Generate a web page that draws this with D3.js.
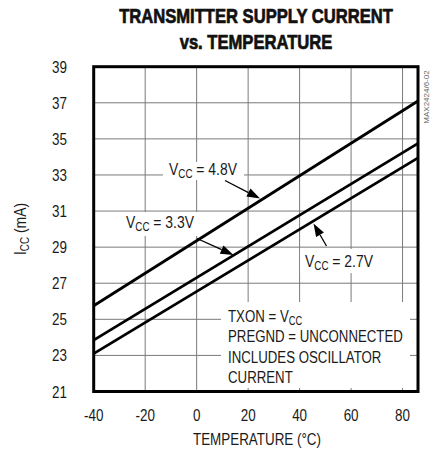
<!DOCTYPE html>
<html><head><meta charset="utf-8">
<script src="https://cdn.jsdelivr.net/npm/d3@7"></script>
<style>
html,body{margin:0;padding:0;background:#fff;}
svg{display:block;}
text{font-family:"Liberation Sans",Arial,sans-serif;}
</style></head>
<body>
<script>
// ---- data ----
const temps = [-40, 86];
const vcc48 = [25.75, 37.1];
const vcc33 = [23.85, 34.75];
const vcc27 = [23.1, 33.95];
const seriesNames = ["4.8V", "3.3V", "2.7V"];
const xTicks = [-40, -20, 0, 20, 40, 60, 80];
const yTicks = [21, 23, 25, 27, 29, 31, 33, 35, 37, 39];
const titleLines = ["TRANSMITTER SUPPLY CURRENT", "vs. TEMPERATURE"];
const noteLines = ["TXON = V|CC", "PREGND = UNCONNECTED", "INCLUDES OSCILLATOR", "CURRENT"];

const W = 431, H = 453;
const SX = 0.79; // narrow font look
const svg = d3.select("body").append("svg").attr("width", W).attr("height", H);

const x = d3.scaleLinear().domain([-40, 86]).range([93.7, 418]);
const y = d3.scaleLinear().domain([21, 39]).range([391.5, 66.7]);

function ntext(parent, tx, ty, anchor, size, sx) {
  return parent.append("g").attr("transform", `translate(${tx},${ty}) scale(${sx},1)`)
    .append("text").attr("text-anchor", anchor).attr("font-size", size).attr("fill", "#1a1a1a");
}

// title
titleLines.forEach((s, i) => {
  ntext(svg, 256, 22.5 + i * 26.5, "middle", 20, 0.83)
    .attr("font-weight", "bold").attr("fill", "#111")
    .attr("stroke", "#111").attr("stroke-width", 0.7).text(s);
});

// gridlines
const grid = svg.append("g").attr("stroke", "#7a7a7a").attr("stroke-width", 1);
grid.selectAll("line.v").data(xTicks.slice(1)).join("line").attr("class", "v")
  .attr("x1", d => x(d)).attr("x2", d => x(d)).attr("y1", y(39)).attr("y2", y(21));
grid.selectAll("line.h").data(yTicks.slice(1, -1)).join("line").attr("class", "h")
  .attr("y1", d => y(d)).attr("y2", d => y(d)).attr("x1", x(-40)).attr("x2", 418);

// white backgrounds for annotations (break the grid)
const bgs = [
  {x0: 163, y0: 162, x1: 244, y1: 180},
  {x0: 118, y0: 212, x1: 200, y1: 236},
  {x0: 300, y0: 249, x1: 384, y1: 273},
  {x0: 221, y0: 302, x1: 410, y1: 388}
];
svg.append("g").selectAll("rect").data(bgs).join("rect")
  .attr("x", d => d.x0).attr("y", d => d.y0)
  .attr("width", d => d.x1 - d.x0).attr("height", d => d.y1 - d.y0)
  .attr("fill", "#fff");

// data lines
const series = [vcc48, vcc33, vcc27];
const line = d3.line().x(d => x(d[0])).y(d => y(d[1]));
svg.append("g").selectAll("path").data(series).join("path")
  .attr("d", s => line(temps.map((t, i) => [t, s[i]])))
  .attr("fill", "none").attr("stroke", "#000").attr("stroke-width", 2.8);

// frame
svg.append("rect").attr("x", x(-40)).attr("y", y(39))
  .attr("width", 418 - x(-40)).attr("height", y(21) - y(39))
  .attr("fill", "none").attr("stroke", "#000").attr("stroke-width", 3);

// axis tick labels
yTicks.forEach(d => ntext(svg, 67, y(d) + 6, "end", 17, SX).text(d));
xTicks.forEach(d => ntext(svg, x(d), 421, "middle", 17, SX).text(d));

// axis titles
ntext(svg, 257, 445, "middle", 17, SX).text("TEMPERATURE (°C)");
const ytg = svg.append("g").attr("transform", "translate(26,229) rotate(-90) scale(0.82,1)");
const yt = ytg.append("text").attr("text-anchor", "middle").attr("font-size", 17).attr("fill", "#1a1a1a");
yt.append("tspan").text("I");
yt.append("tspan").attr("font-size", 12).attr("dy", 3).text("CC");
yt.append("tspan").attr("dy", -3).text(" (mA)");

// series labels
const labPos = [[169, 174.5], [126, 227.5], [305, 267]];
seriesNames.forEach((n, i) => {
  const t = ntext(svg, labPos[i][0], labPos[i][1], "start", 17, 0.82);
  t.append("tspan").text("V");
  t.append("tspan").attr("font-size", 12).attr("dy", 3).text("CC");
  t.append("tspan").attr("dy", -3).text(" = " + n);
});

// arrows
const arrows = [
  {x1: 225, y1: 180.5, x2: 260, y2: 198.5},
  {x1: 197, y1: 238.5, x2: 233.5, y2: 255},
  {x1: 326.5, y1: 246, x2: 313.5, y2: 223.5}
];
const ag = svg.append("g");
arrows.forEach(a => {
  const ang = Math.atan2(a.y2 - a.y1, a.x2 - a.x1);
  const L = 13, hw = 4.5;
  const bx = a.x2 - L * Math.cos(ang), by = a.y2 - L * Math.sin(ang);
  ag.append("line").attr("x1", a.x1).attr("y1", a.y1).attr("x2", bx).attr("y2", by)
    .attr("stroke", "#000").attr("stroke-width", 1.3);
  const px = -Math.sin(ang) * hw, py = Math.cos(ang) * hw;
  ag.append("path").attr("d", `M${a.x2},${a.y2}L${bx + px},${by + py}L${bx - px},${by - py}Z`).attr("fill", "#000");
});

// note box text
noteLines.forEach((s, i) => {
  const t = ntext(svg, 228, 321.5 + i * 20.6, "start", 17, 0.78);
  const parts = s.split("|");
  t.append("tspan").text(parts[0]);
  if (parts[1]) t.append("tspan").attr("font-size", 12).attr("dy", 3).text(parts[1]);
});

// side code
svg.append("g").attr("transform", "translate(426.5,97) rotate(-90)")
  .append("text").attr("text-anchor", "middle").attr("dominant-baseline", "central")
  .attr("font-size", 8).attr("fill", "#666").text("MAX2424/6-02");
</script>
</body></html>
